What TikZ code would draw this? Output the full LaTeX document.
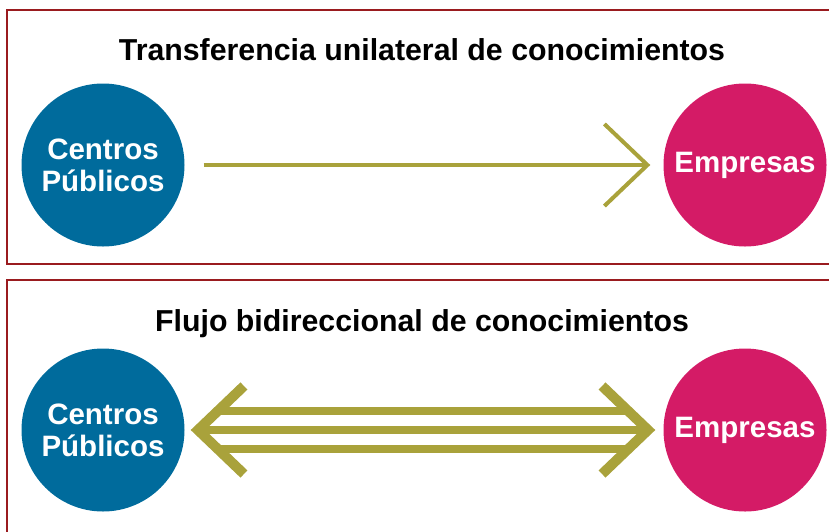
\documentclass[tikz,border=0pt]{standalone}
\usepackage{fontspec}
\setmainfont{Liberation Sans}
\usetikzlibrary{arrows.meta, positioning}
\definecolor{marco}{HTML}{9A1B1F}
\definecolor{azul}{HTML}{006B9C}
\definecolor{rosa}{HTML}{D41B66}
\definecolor{oliva}{HTML}{A9A23B}

\begin{document}
\begin{tikzpicture}[x=1pt, y=1pt, on grid, node distance=266pt,
    caja/.style={draw=marco, line width=2pt},
    titulo/.style={anchor=base, font=\bfseries\fontsize{30.3}{34}\selectfont},
    circulo/.style={circle, minimum size=163pt, inner sep=0pt, text=white,
      align=center, font=\bfseries\fontsize{29.5}{32}\selectfont},
    barra/.style={draw=oliva, line width=8.5pt},
    doble/.style={barra, >={Straight Barb[length=46pt, width=88pt, line width=10pt]}, <->}]
  \useasboundingbox (0,0) rectangle (829,-531);
  \clip (0,0) rectangle (829,-531);
  % marcos
  \draw[caja] (7,-10) rectangle (850,-264);
  \draw[caja] (7,-280) rectangle (850,-560);
  % transferencia unilateral
  \node[titulo] (t_1) at (422,-60) {Transferencia unilateral de conocimientos};
  \node[circulo, fill=azul] (cp_1) at (103,-165) {Centros\\Públicos};
  \node[circulo, fill=rosa] (em_1) [right=642pt of cp_1] {Empresas};
  \draw[oliva, line width=4pt, -{Straight Barb[length=43pt, width=82pt]},
    shorten <=19pt, shorten >=13pt] (cp_1) -- (em_1);
  % flujo bidireccional
  \node[titulo] (t_2) [below=274pt of t_1] {Flujo bidireccional de conocimientos};
  \node[circulo, fill=azul] (cp_2) [below=265pt of cp_1] {Centros\\Públicos};
  \node[circulo, fill=rosa] (em_2) [below=265pt of em_1] {Empresas};
  \draw[barra, shorten <=34pt, shorten >=36pt]
    ([yshift=19pt]cp_2.east) -- ([yshift=19pt]em_2.west);
  \draw[barra, shorten <=34pt, shorten >=36pt]
    ([yshift=-19pt]cp_2.east) -- ([yshift=-19pt]em_2.west);
  \draw[doble, shorten <=6pt, shorten >=8pt] (cp_2) -- (em_2);
\end{tikzpicture}
\end{document}
